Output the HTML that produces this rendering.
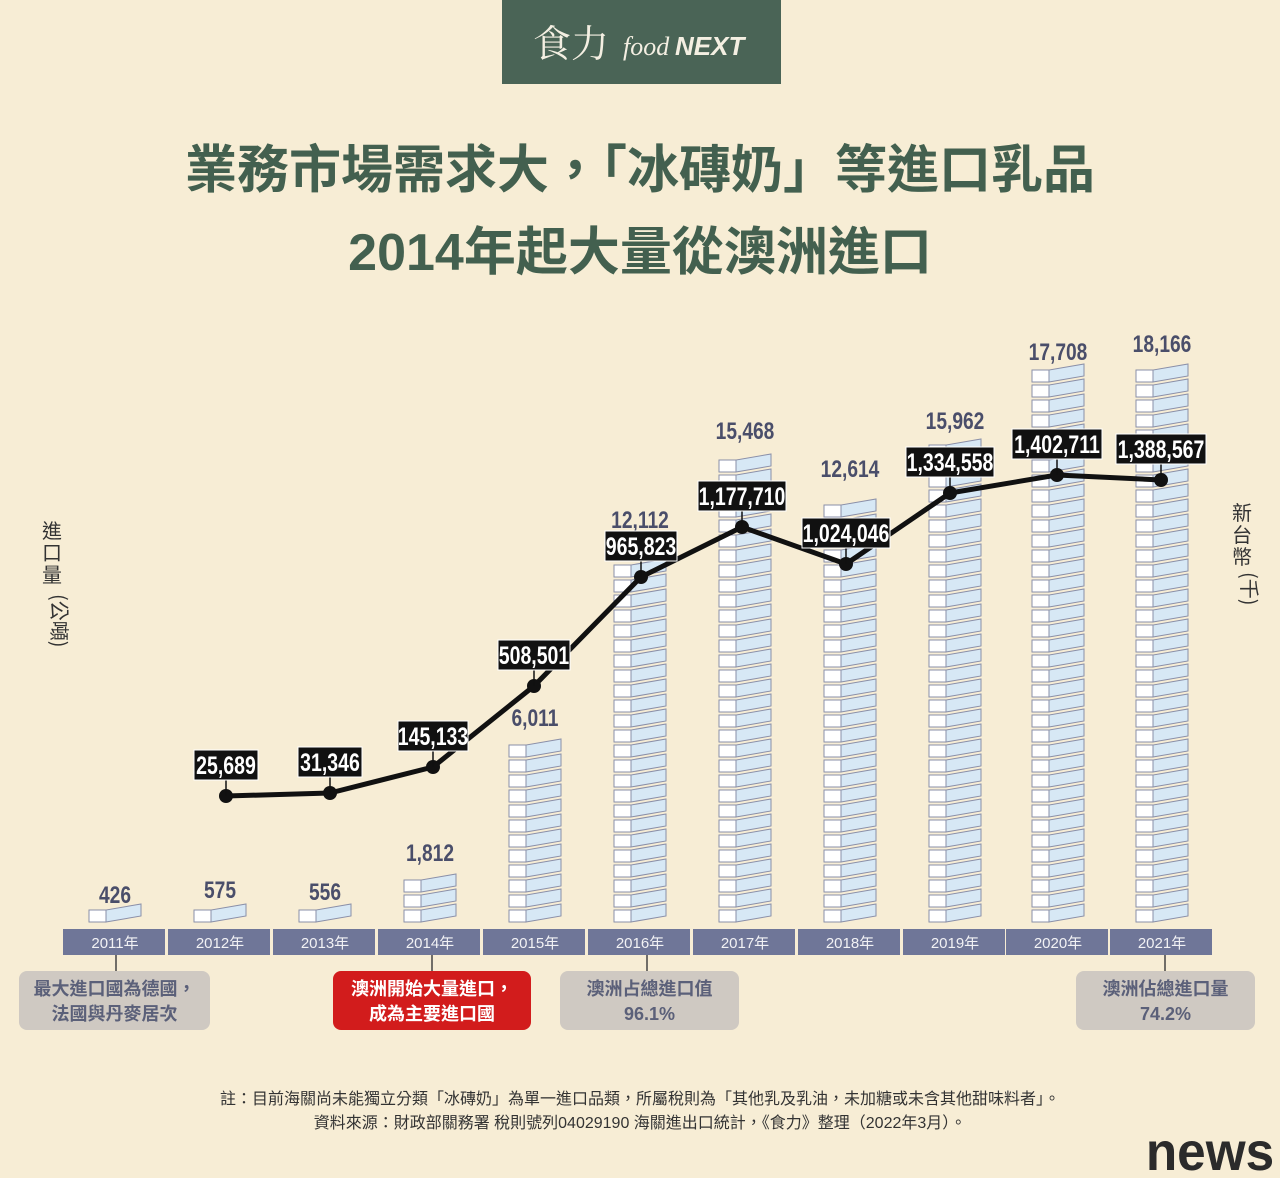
<!DOCTYPE html>
<html><head><meta charset="utf-8">
<style>
html,body{margin:0;padding:0;background:#f7edd5;}
body{width:1280px;height:1178px;overflow:hidden;position:relative;font-family:"Liberation Sans","Noto Sans CJK TC",sans-serif;}
svg{position:absolute;left:0;top:0}
</style></head><body>
<svg id="s" width="1280" height="1178" viewBox="0 0 1280 1178" xmlns="http://www.w3.org/2000/svg" font-family="Liberation Sans, Noto Sans CJK TC, sans-serif">
<rect x="0" y="0" width="1280" height="1178" fill="#f7edd5"/>
<rect x="502" y="0" width="279" height="84" fill="#4a6456"/>
<text x="533" y="57" font-family="Noto Serif CJK SC, serif" font-size="38" fill="#f4efe2">食力</text>
<text x="623" y="55" font-family="Liberation Serif, serif" font-style="italic" font-size="26" fill="#f4efe2">food</text>
<text x="675" y="55" font-size="26" font-weight="bold" font-style="italic" fill="#f4efe2">NEXT</text>
<text x="640" y="188" text-anchor="middle" font-size="52" font-weight="bold" fill="#43604f" font-family="Noto Sans CJK TC, sans-serif">業務市場需求大，「冰磚奶」等進口乳品</text>
<text x="640" y="270" text-anchor="middle" font-size="52" font-weight="bold" fill="#43604f" font-family="Liberation Sans, Noto Sans CJK TC, sans-serif">2014年起大量從澳洲進口</text>
<g id="bars"></g>
<g id="band"></g>
<g id="line"></g>
<text font-size="20" fill="#333" font-family="Noto Sans CJK TC, sans-serif"><tspan x="42" y="538">進</tspan><tspan x="42" y="560">口</tspan><tspan x="42" y="582">量</tspan></text>
<text x="52" y="594" font-size="20" fill="#333" transform="rotate(90 52 594)" font-family="Noto Sans CJK TC, sans-serif">(公噸)</text>
<text font-size="20" fill="#333" font-family="Noto Sans CJK TC, sans-serif"><tspan x="1232" y="520">新</tspan><tspan x="1232" y="542">台</tspan><tspan x="1232" y="564">幣</tspan></text>
<text x="1242" y="572" font-size="20" fill="#333" transform="rotate(90 1242 572)" font-family="Noto Sans CJK TC, sans-serif">(千)</text>
<text x="640" y="1104" text-anchor="middle" font-size="16" fill="#333">註：目前海關尚未能獨立分類「冰磚奶」為單一進口品類，所屬稅則為「其他乳及乳油，未加糖或未含其他甜味料者」。</text>
<text x="640" y="1128" text-anchor="middle" font-size="16" fill="#333">資料來源：財政部關務署 稅則號列04029190 海關進出口統計，《食力》整理（2022年3月）。</text>
<text x="1210" y="1170" text-anchor="middle" font-size="54" font-weight="bold" fill="#2b2b2b" transform="scale(0.95 1)" transform-origin="1210 1170">news</text>
</svg>
<script>
const NS="http://www.w3.org/2000/svg";
function el(p,t,a,txt){const e=document.createElementNS(NS,t);for(const k in a)e.setAttribute(k,a[k]);if(txt)e.textContent=txt;p.appendChild(e);return e;}
const bars=document.getElementById('bars'),band=document.getElementById('band'),line=document.getElementById('line');
const cx=[115,220,325,430,535,640,745,850,955,1058,1162];
const tops=[908,905,905,868,735,565,452,492,442,368,362];
const ly=[903,898,900,861,726,528,439,477,429,360,352];
const vals=["426","575","556","1,812","6,011","12,112","15,468","12,614","15,962","17,708","18,166"];
const bottom=922;
for(let i=0;i<11;i++){
  const x0=cx[i]-26;
  let n=Math.max(1,Math.floor((bottom-tops[i]+4)/15));
  for(let j=0;j<n;j++){
    const yb=bottom-j*15;
    el(bars,'rect',{x:x0,y:yb-12,width:17,height:12,fill:'#fff',stroke:'#8a8fa8','stroke-width':1});
    el(bars,'polygon',{points:`${x0+17},${yb} ${x0+52},${yb-6} ${x0+52},${yb-18} ${x0+17},${yb-12}`,fill:'#d7e8f5',stroke:'#8a8fa8','stroke-width':1});
  }
  const ty=ly[i];
  el(bars,'text',{x:cx[i],y:ty,'text-anchor':'middle','font-size':24,'font-weight':'bold',fill:'#4a4e6a',transform:`scale(0.8 1)`,'transform-origin':`${cx[i]} ${ty}`},vals[i]);
  el(band,'rect',{x:cx[i]-52,y:929,width:102,height:26,fill:'#6f7698'});
  el(band,'text',{x:cx[i],y:948,'text-anchor':'middle','font-size':15,fill:'#f2f2f5'},(2011+i)+'年');
}
function call(x,y,w,h,fill,col,l1,l2,lx){
  el(band,'line',{x1:lx,y1:955,x2:lx,y2:y,stroke:'#444','stroke-width':1.5});
  el(band,'rect',{x:x,y:y,width:w,height:h,rx:8,fill:fill});
  el(band,'text',{x:x+w/2,y:y+24,'text-anchor':'middle','font-size':18,'font-weight':'bold',fill:col},l1);
  el(band,'text',{x:x+w/2,y:y+49,'text-anchor':'middle','font-size':18,'font-weight':'bold',fill:col},l2);
}
call(19,971,191,59,'#cfc9c2','#5b6079','最大進口國為德國，','法國與丹麥居次',116);
call(333,971,198,59,'#d21c1c','#fff','澳洲開始大量進口，','成為主要進口國',432);
call(560,971,179,59,'#cfc9c2','#5b6079','澳洲占總進口值','96.1%',647);
call(1076,971,179,59,'#cfc9c2','#5b6079','澳洲佔總進口量','74.2%',1165);
const pts=[[226,796],[330,793],[433,767],[534,686],[641,577],[742,527],[846,564],[950,493],[1057,475],[1161,480]];
const lab=["25,689","31,346","145,133","508,501","965,823","1,177,710","1,024,046","1,334,558","1,402,711","1,388,567"];
const lbw=[64,64,70,72,72,88,88,88,90,90];
el(line,'polyline',{points:pts.map(p=>p.join(',')).join(' '),fill:'none',stroke:'#111','stroke-width':5,'stroke-linejoin':'round'});
pts.forEach((p,i)=>{
  el(line,'circle',{cx:p[0],cy:p[1],r:7,fill:'#111'});
  const by=p[1]-46,w=lbw[i];
  el(line,'line',{x1:p[0],y1:by+30,x2:p[0],y2:p[1],stroke:'#111','stroke-width':1.5});
  el(line,'rect',{x:p[0]-w/2,y:by,width:w,height:30,fill:'#111',stroke:'#fff','stroke-width':1});
  el(line,'text',{x:p[0],y:by+24,'text-anchor':'middle','font-size':25,'font-weight':'bold',fill:'#fff',transform:'scale(0.78 1)','transform-origin':`${p[0]} ${by+24}`},lab[i]);
});
</script>
</body></html>
